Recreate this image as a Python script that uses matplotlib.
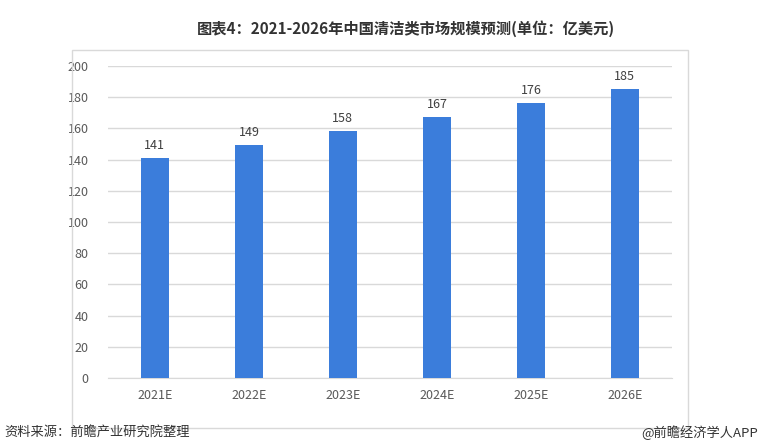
import matplotlib.pyplot as plt
from matplotlib.patches import Rectangle

plt.rcParams['font.family'] = ['Noto Sans CJK SC', 'DejaVu Sans']

years = ["2021E", "2022E", "2023E", "2024E", "2025E", "2026E"]
market_size = [141, 149, 158, 167, 176, 185]
y_ticks = [0, 20, 40, 60, 80, 100, 120, 140, 160, 180, 200]

fig = plt.figure(figsize=(7.6, 4.48), dpi=100)
ax = fig.add_axes([0.142, 0.156, 0.742, 0.697])

# outer frame around the chart
fig.patches.append(Rectangle((0.095, 0.045), 0.81, 0.843, transform=fig.transFigure,
                             fill=False, edgecolor='#d9d9d9', linewidth=1))

x = range(len(years))
bars = ax.bar(x, market_size, width=0.3, color='#3b7ddb', zorder=3)
for xi, v in zip(x, market_size):
    ax.text(xi, v + 4, str(v), ha='center', va='bottom', fontsize=9, color='#404040')

ax.set_xlim(-0.5, len(years) - 0.5)
ax.set_ylim(0, 200)
ax.set_yticks(y_ticks)
ax.set_xticks(list(x))
ax.set_xticklabels(years)
ax.grid(axis='y', color='#d9d9d9', linewidth=1, zorder=0)
for s in ['top', 'right', 'left']:
    ax.spines[s].set_visible(False)
ax.spines['bottom'].set_color('#d9d9d9')
ax.tick_params(axis='both', length=0, labelsize=9, labelcolor='#595959')
ax.tick_params(axis='x', pad=8)
ax.tick_params(axis='y', pad=14)

fig.text(0.534, 0.937, "图表4：2021-2026年中国清洁类市场规模预测(单位：亿美元)",
         ha='center', va='center', fontsize=11, fontweight='bold', color='#333333')
fig.text(0.006, 0.035, "资料来源：前瞻产业研究院整理", ha='left', va='center',
         fontsize=9.5, color='#333333')
fig.text(0.997, 0.035, "@前瞻经济学人APP", ha='right', va='center',
         fontsize=9.5, color='#333333')

plt.savefig("out.png", dpi=100)
plt.close()
